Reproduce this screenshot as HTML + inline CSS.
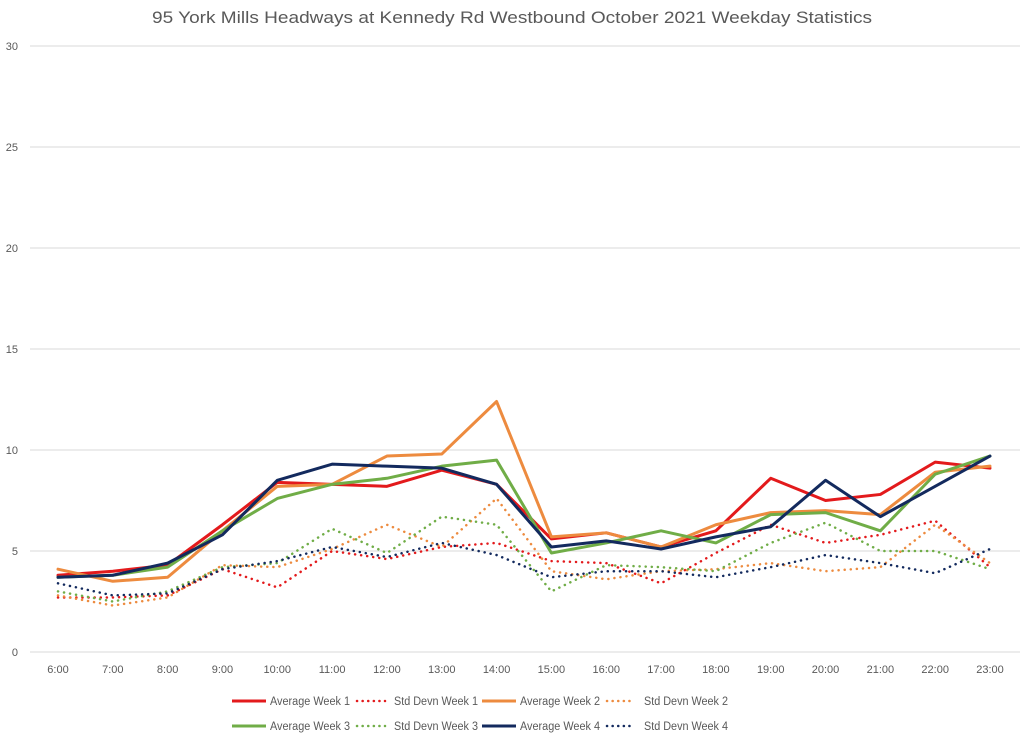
<!DOCTYPE html>
<html><head><meta charset="utf-8"><style>
body{margin:0;background:#fff;}
svg{display:block;font-family:"Liberation Sans",sans-serif;}
</style></head><body>
<svg id="chart" width="1024" height="738">
<text x="512" y="23" text-anchor="middle" font-size="17" fill="#595959" textLength="720" lengthAdjust="spacingAndGlyphs">95 York Mills Headways at Kennedy Rd Westbound October 2021 Weekday Statistics</text>
<g id="grid"></g><g id="series"></g><g id="legend"></g>
</svg>
<script>
const categories=["6:00","7:00","8:00","9:00","10:00","11:00","12:00","13:00","14:00","15:00","16:00","17:00","18:00","19:00","20:00","21:00","22:00","23:00"];
const yTicks=[0,5,10,15,20,25,30];
const avgW1=[3.8,4.0,4.3,6.3,8.4,8.3,8.2,9.0,8.3,5.6,5.9,5.2,6.0,8.6,7.5,7.8,9.4,9.1];
const sdW1=[2.7,2.7,2.8,4.1,3.2,5.0,4.6,5.2,5.4,4.5,4.4,3.4,4.9,6.3,5.4,5.8,6.5,4.2];
const avgW2=[4.1,3.5,3.7,6.0,8.2,8.3,9.7,9.8,12.4,5.7,5.9,5.2,6.3,6.9,7.0,6.8,8.9,9.2];
const sdW2=[2.8,2.3,2.7,4.3,4.2,5.1,6.3,5.2,7.6,4.0,3.6,4.0,4.1,4.4,4.0,4.2,6.3,4.4];
const avgW3=[3.7,3.8,4.2,6.0,7.6,8.3,8.6,9.2,9.5,4.9,5.4,6.0,5.4,6.8,6.9,6.0,8.8,9.7];
const sdW3=[3.0,2.5,3.0,4.2,4.4,6.1,4.9,6.7,6.3,3.0,4.3,4.2,4.0,5.4,6.4,5.0,5.0,4.1];
const avgW4=[3.7,3.8,4.4,5.8,8.5,9.3,9.2,9.1,8.3,5.2,5.5,5.1,5.7,6.2,8.5,6.7,8.2,9.7];
const sdW4=[3.4,2.8,2.9,4.1,4.5,5.2,4.7,5.4,4.8,3.7,4.0,4.0,3.7,4.2,4.8,4.4,3.9,5.1];
const NS="http://www.w3.org/2000/svg";
const x0=58,x1=990,yB=652,yT=46,yMax=30;
const xs=i=>x0+(x1-x0)*i/(categories.length-1);
const ys=v=>yB-(yB-yT)*v/yMax;
function mk(tag,attrs,parent){const e=document.createElementNS(NS,tag);for(const k in attrs)e.setAttribute(k,attrs[k]);parent.appendChild(e);return e;}
const grid=document.getElementById('grid');
yTicks.forEach(t=>{
 const l=mk('line',{x1:30,x2:1020,y1:ys(t),y2:ys(t),stroke:'#d9d9d9','stroke-width':1},grid);
 
 
 const tx=mk('text',{x:18,y:ys(t)+4,'text-anchor':'end','font-size':11,fill:'#595959'},grid);
 tx.textContent=t;
 
 
});
categories.forEach((c,i)=>{
 const tx=mk('text',{x:xs(i),y:673,'text-anchor':'middle','font-size':11,fill:'#595959'},grid);
 tx.textContent=c;
 
 
});
const series=[
 {name:"Average Week 1",d:avgW1,c:"#e31a1c",dash:false},
 {name:"Std Devn Week 1",d:sdW1,c:"#e31a1c",dash:true},
 {name:"Average Week 2",d:avgW2,c:"#ed8b3f",dash:false},
 {name:"Std Devn Week 2",d:sdW2,c:"#ed8b3f",dash:true},
 {name:"Average Week 3",d:avgW3,c:"#70ad47",dash:false},
 {name:"Std Devn Week 3",d:sdW3,c:"#70ad47",dash:true},
 {name:"Average Week 4",d:avgW4,c:"#132a5e",dash:false},
 {name:"Std Devn Week 4",d:sdW4,c:"#132a5e",dash:true}
];
const sg=document.getElementById('series');
const order=[1,3,5,7,0,2,4,6];
order.forEach(k=>{const s=series[k];
 const p=mk('polyline',{points:s.d.map((v,i)=>xs(i)+','+ys(v)).join(' '),fill:'none',stroke:s.c,'stroke-width':s.dash?2.5:3,'stroke-linejoin':'round','stroke-linecap':'round','stroke-dasharray':s.dash?'0.1 6':'none'},sg);
 
 
});
const lg=document.getElementById('legend');
const lx=[232,357,482,607],ly=[701,726];
series.forEach((s,k)=>{
 const r=Math.floor(k/4),c=k%4,x=lx[c],y=ly[r];
 const g=mk('g',{},lg);
 
 
 if(s.dash) mk('line',{x1:x,x2:x+28,y1:y,y2:y,stroke:s.c,'stroke-width':2.5,'stroke-linecap':'round','stroke-dasharray':'0.1 5.5'},g);
 else mk('line',{x1:x,x2:x+34,y1:y,y2:y,stroke:s.c,'stroke-width':3},g);
 const t=mk('text',{x:x+(s.dash?37:38),y:y+4,'font-size':11.5,fill:'#595959',textLength:s.dash?84:80,lengthAdjust:'spacingAndGlyphs'},g);
 t.textContent=s.name;
});
</script>
</body></html>
